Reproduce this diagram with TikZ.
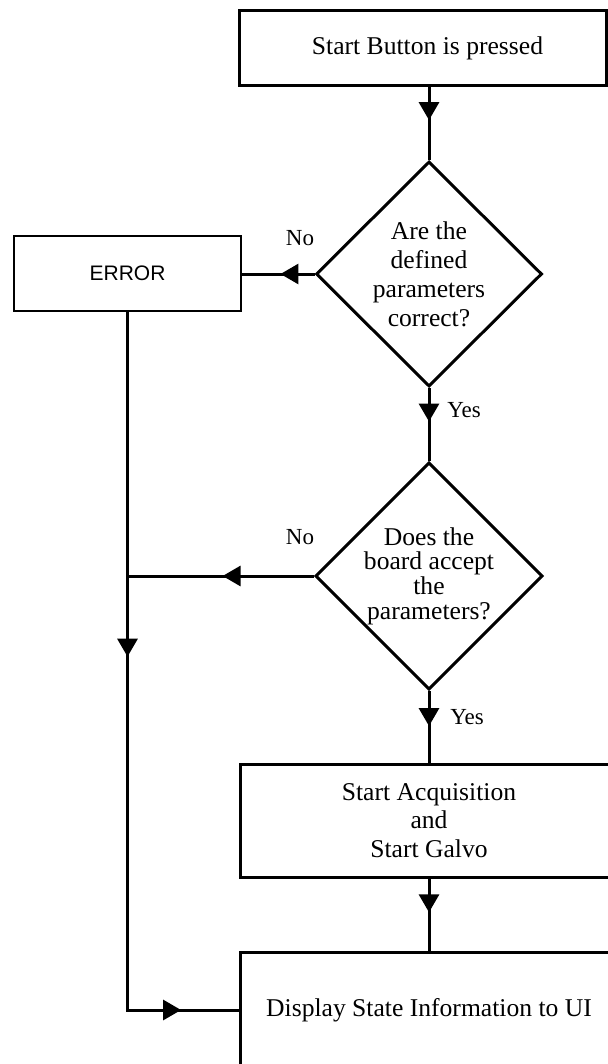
\documentclass[tikz,border=0pt]{standalone}
\usepackage{fontspec}
\setmainfont{Liberation Serif}
\newfontfamily\errorfont{Liberation Sans}
\usetikzlibrary{shapes.geometric, arrows.meta, decorations.markings}

\begin{document}
\begin{tikzpicture}
  [x=0.5pt, y=-0.5pt, line width=1.5pt,
   >={Triangle[length=9pt, width=10pt]},
   every node/.style={font=\fontsize{12.8}{14.5}\selectfont},
   box/.style={draw, rectangle, align=center, inner sep=0pt},
   decision/.style={draw, diamond, aspect=1, inner sep=0pt,
     minimum width=113pt, minimum height=112.5pt, align=center},
   answer/.style={font=\fontsize{11.5}{13}\selectfont},
   midarrow/.style={postaction={decorate,
     decoration={markings, mark=at position #1 with {\arrow{>}}}}}]
  \useasboundingbox (0,0) rectangle (608,1064);
  \clip (0,0) rectangle (608,1064);

  \node[box, minimum width=183.5pt, minimum height=37.5pt] (press) at (422.5,48.5) {\hspace{5pt}Start Button is pressed};
  \node[decision] (check) at (429,274) {Are the\\defined\\parameters\\correct?};
  \node[box, line width=1.1pt, minimum width=113.5pt, minimum height=37.5pt,
    font=\errorfont\fontsize{10.5}{12}\selectfont] (error) at (127.5,273.5) {ERROR};
  \node[decision, font=\fontsize{12.8}{12.3}\selectfont] (accept) at (429,576) {Does the\\board accept\\the\\parameters?};
  \node[box, minimum width=189pt, minimum height=56.5pt,
    font=\fontsize{12.8}{14.3}\selectfont] (acquire) at (429,820.5) {Start Acquisition\\and\\Start Galvo};
  \node[box, minimum width=189pt, minimum height=58pt] (display) at (429,1010) {Display State Information to UI};

  % yes / no labels
  \node[answer] (no1) at (300,238) {No};
  \node[answer] (yes1) at (464,410) {Yes};
  \node[answer] (no2) at (300,537) {No};
  \node[answer] (yes2) at (467,717) {Yes};

  \coordinate (merge) at (error.south |- accept.west);
  \coordinate (corner) at (error.south |- display.west);

  \draw[midarrow=0.45] (press.south -| check.north) -- (check.north);
  \draw[midarrow=0.47] (check.west) -- (check.west -| error.east);
  \draw[midarrow=0.46] (check.south) -- (accept.north);
  \draw[midarrow=0.49] (accept.west) -- (merge);
  \draw[midarrow=0.426, midarrow=0.929] (error.south) -- (corner) -- (display.west);
  \draw[midarrow=0.49] (accept.south) -- (acquire.north);
  \draw[midarrow=0.47] (acquire.south) -- (display.north);
\end{tikzpicture}
\end{document}
